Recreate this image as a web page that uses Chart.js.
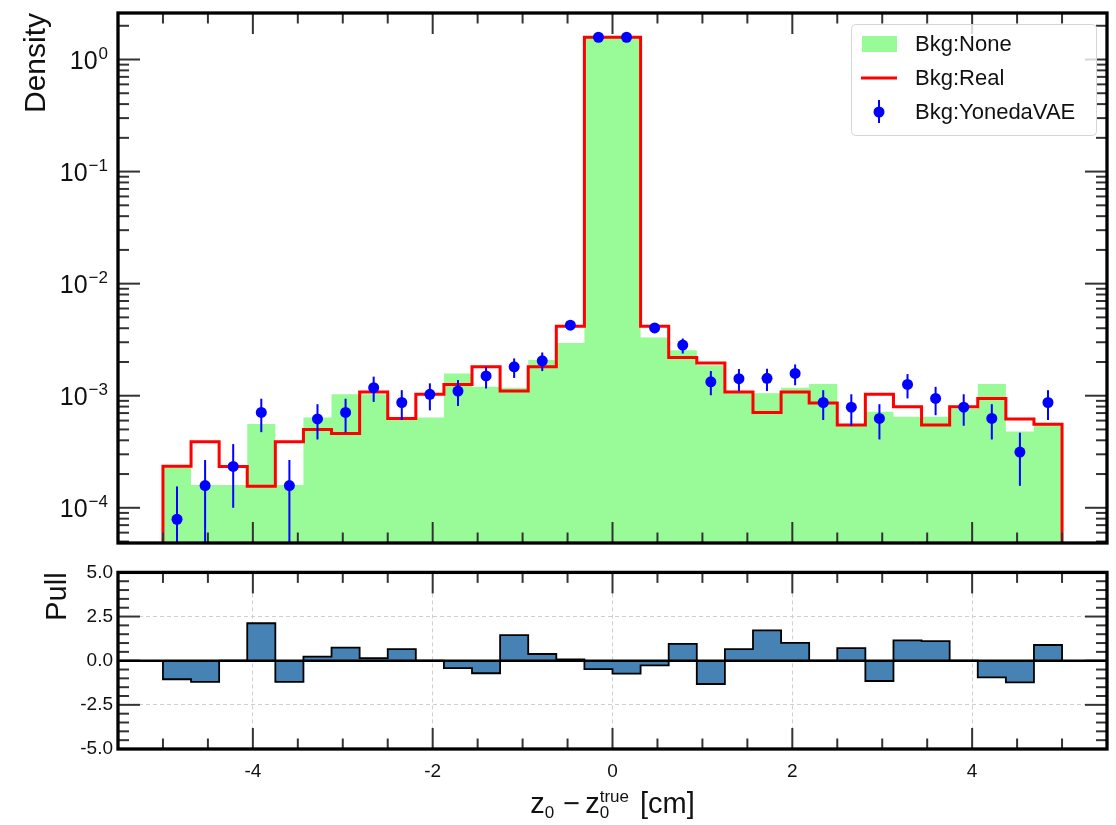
<!DOCTYPE html>
<html>
<head>
<meta charset="utf-8">
<script src="https://cdn.jsdelivr.net/npm/chart.js@4.4.1/dist/chart.umd.min.js"></script>
<style>
  body { margin: 0; background: #fff; }
  #wrap { position: relative; width: 1116px; height: 825px; }
  canvas { position: absolute; left: 0; }
</style>
</head>
<body>
<div id="wrap">
  <canvas id="mainChart" width="1116" height="556" style="top:0"></canvas>
  <canvas id="pullChart" width="1116" height="269" style="top:556px"></canvas>
</div>
<script>
// binning: 32 bins from -5 to 5 cm
const binLo = -5;
const binHi = 5;
const nBins = 32;
const binWidth = (binHi - binLo) / nBins;

// density per bin
const bkgNone = [2.3e-4, 1.6e-4, 1.6e-4, 5.6e-4, 1.6e-4, 6.4e-4, 1.03e-3, 1.03e-3,
  6.2e-4, 6.4e-4, 1.58e-3, 1.2e-3, 1.18e-3, 2.08e-3, 2.96e-3, 1.58,
  1.58, 3.31e-3, 2.55e-3, 1.87e-3, 1.05e-3, 1.05e-3, 1.18e-3, 1.27e-3,
  5.4e-4, 7.2e-4, 6.5e-4, 6.5e-4, 7.7e-4, 1.27e-3, 4.8e-4, 5.5e-4];
const bkgReal = [2.35e-4, 3.89e-4, 2.33e-4, 1.56e-4, 3.89e-4, 5.0e-4, 4.6e-4, 1.08e-3,
  6.27e-4, 1.03e-3, 1.26e-3, 1.81e-3, 1.1e-3, 1.81e-3, 4.17e-3, 1.58,
  1.58, 4.17e-3, 2.19e-3, 1.96e-3, 1.08e-3, 7.1e-4, 1.08e-3, 8.6e-4,
  5.47e-4, 1.03e-3, 7.96e-4, 5.47e-4, 7.96e-4, 9.46e-4, 6.2e-4, 5.55e-4];
const yonedaVals = [7.9e-5, 1.58e-4, 2.34e-4, 7.1e-4, 1.58e-4, 6.2e-4, 7.1e-4, 1.18e-3,
  8.7e-4, 1.03e-3, 1.1e-3, 1.5e-3, 1.81e-3, 2.05e-3, 4.26e-3, 1.58,
  1.58, 4.03e-3, 2.83e-3, 1.33e-3, 1.42e-3, 1.43e-3, 1.58e-3, 8.7e-4,
  7.9e-4, 6.27e-4, 1.26e-3, 9.46e-4, 7.9e-4, 6.27e-4, 3.14e-4, 8.7e-4];
const yonedaLow = [0, 0, 1.0e-4, 4.73e-4, 0, 4.07e-4, 4.7e-4, 8.8e-4,
  6.07e-4, 7.4e-4, 8.1e-4, 1.16e-3, 1.44e-3, 1.66e-3, 3.9e-3, 1.55,
  1.55, 3.7e-3, 2.38e-3, 1.01e-3, 1.1e-3, 1.1e-3, 1.24e-3, 6.07e-4,
  5.4e-4, 4.07e-4, 9.46e-4, 6.7e-4, 5.4e-4, 4.07e-4, 1.57e-4, 6.07e-4];
const yonedaHigh = [1.55e-4, 2.67e-4, 3.7e-4, 9.4e-4, 2.67e-4, 8.4e-4, 9.4e-4, 1.48e-3,
  1.12e-3, 1.29e-3, 1.38e-3, 1.8e-3, 2.15e-3, 2.43e-3, 4.6e-3, 1.61,
  1.61, 4.4e-3, 3.24e-3, 1.66e-3, 1.73e-3, 1.74e-3, 1.9e-3, 1.12e-3,
  1.03e-3, 8.4e-4, 1.56e-3, 1.2e-3, 1.03e-3, 8.4e-4, 4.68e-4, 1.12e-3];

// pull per bin
const pullVals = [-1.05, -1.2, 0, 2.12, -1.2, 0.23, 0.74, 0.15,
  0.65, 0, -0.42, -0.71, 1.45, 0.38, 0.07, -0.48,
  -0.73, -0.27, 0.95, -1.32, 0.65, 1.72, 1.01, 0,
  0.71, -1.15, 1.15, 1.11, 0, -0.94, -1.23, 0.89];

// axes
const xMin = -5.5, xMax = 5.5;
const yMin = 4.85e-5, yMax = 2.6;
const xMajorTicks = [-4, -2, 0, 2, 4];
const densityDecades = [1e-4, 1e-3, 1e-2, 1e-1, 1];
const pullMajorTicks = [-5, -2.5, 0, 2.5, 5];

const xMinorTicks = [];
for (let v = -5; v <= 5.001; v += 0.5) if (!xMajorTicks.includes(v)) xMinorTicks.push(v);
const densityMinor = [];
for (let e = -5; e <= 0; e++) for (let k = 2; k <= 9; k++) {
  const v = k * Math.pow(10, e);
  if (v > yMin && v < yMax) densityMinor.push(v);
}
const pullMinorTicks = [];
for (let v = -4.5; v <= 4.501; v += 0.5) if (!pullMajorTicks.includes(v)) pullMinorTicks.push(v);

const FONT = '"Liberation Sans", Arial, Helvetica, sans-serif';
Chart.defaults.font.family = FONT;

const centers = bkgNone.map((_, i) => binLo + (i + 0.5) * binWidth);

function stepPoints(vals, base) {
  const pts = [{ x: binLo, y: base }];
  vals.forEach((v, i) => pts.push({ x: binLo + i * binWidth, y: v }));
  pts.push({ x: binHi, y: vals[vals.length - 1] });
  pts.push({ x: binHi, y: base });
  return pts;
}

// inward ticks on all four sides + thick frame
const frameTicks = {
  id: 'frameTicks',
  afterDraw(chart, args, opts) {
    const { ctx, chartArea: a } = chart;
    const xs = chart.scales.x, ys = chart.scales.y;
    ctx.save();
    ctx.strokeStyle = '#333';
    ctx.lineWidth = 2;
    const seg = (x1, y1, x2, y2) => { ctx.beginPath(); ctx.moveTo(x1, y1); ctx.lineTo(x2, y2); ctx.stroke(); };
    const xTick = (v, len) => { const p = xs.getPixelForValue(v); seg(p, a.top, p, a.top + len); seg(p, a.bottom, p, a.bottom - len); };
    const yTick = (v, len) => { const p = ys.getPixelForValue(v); seg(a.left, p, a.left + len, p); seg(a.right, p, a.right - len, p); };
    opts.xMajor.forEach(v => xTick(v, 21));
    opts.xMinor.forEach(v => xTick(v, 10.5));
    opts.yMajor.forEach(v => yTick(v, 22));
    opts.yMinor.forEach(v => yTick(v, 11));
    if (opts.zeroLine) {
      ctx.strokeStyle = '#000';
      ctx.lineWidth = 2.5;
      const p = ys.getPixelForValue(0);
      seg(a.left, p, a.right, p);
    }
    ctx.strokeStyle = '#000';
    ctx.lineWidth = 3.3;
    ctx.strokeRect(a.left, a.top, a.right - a.left, a.bottom - a.top);
    ctx.restore();
  }
};

const errorBars = {
  id: 'errorBars',
  beforeDatasetDraw(chart, args) {
    const ds = chart.data.datasets[args.index];
    if (!ds.errLow) return;
    const { ctx, chartArea: a } = chart;
    const xs = chart.scales.x, ys = chart.scales.y;
    ctx.save();
    ctx.beginPath();
    ctx.rect(a.left, a.top, a.right - a.left, a.bottom - a.top);
    ctx.clip();
    ctx.strokeStyle = ds.pointBackgroundColor;
    ctx.lineWidth = 2;
    ds.data.forEach((pt, i) => {
      const x = xs.getPixelForValue(pt.x);
      const lo = ds.errLow[i] > 0 ? ys.getPixelForValue(ds.errLow[i]) : a.bottom + 5;
      const hi = ys.getPixelForValue(ds.errHigh[i]);
      ctx.beginPath(); ctx.moveTo(x, lo); ctx.lineTo(x, hi); ctx.stroke();
    });
    ctx.restore();
  }
};

const densityLabels = {
  id: 'densityLabels',
  afterDraw(chart) {
    const { ctx, chartArea: a } = chart;
    const ys = chart.scales.y;
    ctx.save();
    ctx.fillStyle = '#111';
    ctx.textBaseline = 'alphabetic';
    densityDecades.forEach(v => {
      const p = ys.getPixelForValue(v);
      const e = Math.round(Math.log10(v));
      const expTxt = e < 0 ? '\u2212' + Math.abs(e) : String(e);
      ctx.font = '17px ' + FONT;
      ctx.textAlign = 'right';
      ctx.fillText(expTxt, 108, p - 1);
      const w = ctx.measureText(expTxt).width;
      ctx.font = '25px ' + FONT;
      ctx.fillText('10', 108 - w - 1, p + 9);
    });
    // y label
    ctx.translate(45, a.top);
    ctx.rotate(-Math.PI / 2);
    ctx.font = '30px ' + FONT;
    ctx.textAlign = 'right';
    ctx.fillText('Density', 0, 0);
    ctx.restore();
  }
};

const legendBox = {
  id: 'legendBox',
  afterDraw(chart) {
    const { ctx } = chart;
    const sets = chart.data.datasets;
    const none = sets.find(d => d.label === 'Bkg:None');
    const real = sets.find(d => d.label === 'Bkg:Real');
    const vae = sets.find(d => d.label === 'Bkg:YonedaVAE');
    ctx.save();
    ctx.beginPath();
    ctx.roundRect(851.5, 24.5, 245, 111, 4);
    ctx.fillStyle = 'rgba(255,255,255,0.8)';
    ctx.fill();
    ctx.strokeStyle = '#d6d6d6';
    ctx.lineWidth = 1;
    ctx.stroke();

    ctx.fillStyle = none.backgroundColor;
    ctx.fillRect(862, 36, 35, 16);

    ctx.strokeStyle = real.borderColor;
    ctx.lineWidth = 3;
    ctx.beginPath(); ctx.moveTo(861, 78); ctx.lineTo(897, 78); ctx.stroke();

    ctx.strokeStyle = vae.pointBackgroundColor;
    ctx.lineWidth = 2;
    ctx.beginPath(); ctx.moveTo(879, 100); ctx.lineTo(879, 123); ctx.stroke();
    ctx.fillStyle = vae.pointBackgroundColor;
    ctx.beginPath(); ctx.arc(879, 112, 5.5, 0, Math.PI * 2); ctx.fill();

    ctx.fillStyle = '#111';
    ctx.font = '22px ' + FONT;
    ctx.textAlign = 'left';
    ctx.textBaseline = 'middle';
    [none, real, vae].forEach((d, i) => ctx.fillText(d.label, 915, 45 + i * 34));
    ctx.restore();
  }
};

const pullTitles = {
  id: 'pullTitles',
  afterDraw(chart) {
    const { ctx, chartArea: a } = chart;
    ctx.save();
    ctx.fillStyle = '#111';
    ctx.textBaseline = 'alphabetic';
    // y label
    ctx.save();
    ctx.translate(66, a.top);
    ctx.rotate(-Math.PI / 2);
    ctx.font = '29px ' + FONT;
    ctx.textAlign = 'right';
    ctx.fillText('Pull', 0, 0);
    ctx.restore();
    // x label: z_0 - z_0^true [cm]
    const big = '29px ' + FONT, small = '17px ' + FONT;
    const base = 257;
    const parts = [
      { t: 'z', f: big, dy: 0 },
      { t: '0', f: small, dy: 5 },
      { gap: 9 },
      { t: '\u2212', f: big, dy: 0 },
      { gap: 5 },
      { t: 'z', f: big, dy: 0 },
      { t: '0', f: small, dy: 5, stackWith: 'true' },
      { gap: 11 },
      { t: '[cm]', f: big, dy: 0 }
    ];
    let total = 0;
    parts.forEach(p => {
      if (p.gap) { p.w = p.gap; }
      else {
        ctx.font = p.f;
        p.w = ctx.measureText(p.t).width;
        if (p.stackWith) p.w = Math.max(p.w, ctx.measureText(p.stackWith).width);
      }
      total += p.w;
    });
    let x = (a.left + a.right) / 2 - total / 2;
    ctx.textAlign = 'left';
    parts.forEach(p => {
      if (!p.gap) {
        ctx.font = p.f;
        ctx.fillText(p.t, x, base + p.dy);
        if (p.stackWith) ctx.fillText(p.stackWith, x, base - 11);
      }
      x += p.w;
    });
    ctx.restore();
  }
};

new Chart(document.getElementById('mainChart'), {
  type: 'line',
  data: {
    datasets: [
      {
        type: 'scatter',
        label: 'Bkg:YonedaVAE',
        data: centers.map((c, i) => ({ x: c, y: yonedaVals[i] })),
        errLow: yonedaLow,
        errHigh: yonedaHigh,
        pointRadius: 5.5,
        pointBackgroundColor: 'blue',
        pointBorderWidth: 0,
        order: 0
      },
      {
        label: 'Bkg:Real',
        data: stepPoints(bkgReal, yMin),
        stepped: true,
        borderColor: 'red',
        borderWidth: 3,
        borderJoinStyle: 'miter',
        pointRadius: 0,
        fill: false,
        order: 1
      },
      {
        label: 'Bkg:None',
        data: stepPoints(bkgNone, yMin),
        stepped: true,
        borderColor: 'transparent',
        borderWidth: 0,
        backgroundColor: '#98fb98',
        pointRadius: 0,
        fill: 'start',
        order: 2
      }
    ]
  },
  options: {
    responsive: false,
    animation: false,
    events: [],
    layout: { padding: { left: 118, right: 9, top: 13, bottom: 13 } },
    plugins: {
      legend: { display: false },
      tooltip: { enabled: false },
      frameTicks: { xMajor: xMajorTicks, xMinor: xMinorTicks, yMajor: densityDecades, yMinor: densityMinor }
    },
    scales: {
      x: { type: 'linear', min: xMin, max: xMax, display: false },
      y: { type: 'logarithmic', min: yMin, max: yMax, display: false }
    }
  },
  plugins: [errorBars, frameTicks, densityLabels, legendBox]
});

new Chart(document.getElementById('pullChart'), {
  type: 'line',
  data: {
    datasets: [{
      label: 'Pull',
      data: stepPoints(pullVals, 0),
      stepped: true,
      borderColor: '#000',
      borderWidth: 1.8,
      borderJoinStyle: 'miter',
      backgroundColor: '#4682b4',
      pointRadius: 0,
      fill: 'origin'
    }]
  },
  options: {
    responsive: false,
    animation: false,
    events: [],
    layout: { padding: { left: 0, right: 9, top: 15, bottom: 0 } },
    plugins: {
      legend: { display: false },
      tooltip: { enabled: false },
      frameTicks: { xMajor: xMajorTicks, xMinor: xMinorTicks, yMajor: pullMajorTicks, yMinor: pullMinorTicks, zeroLine: true }
    },
    scales: {
      x: {
        type: 'linear', min: xMin, max: xMax,
        afterBuildTicks: s => { s.ticks = xMajorTicks.map(v => ({ value: v })); },
        afterFit: s => { s.height = 76; },
        grid: { color: '#cfcfcf', lineWidth: 1, drawTicks: false },
        border: { display: false, dash: [4, 3] },
        ticks: { padding: 11, color: '#111', font: { size: 19 }, maxRotation: 0, callback: v => String(v) }
      },
      y: {
        type: 'linear', min: -5, max: 5,
        afterBuildTicks: s => { s.ticks = pullMajorTicks.map(v => ({ value: v })); },
        afterFit: s => { s.width = 118; },
        grid: { color: c => (Math.abs(c.tick.value) === 2.5 ? '#cfcfcf' : 'transparent'), lineWidth: 1, drawTicks: false },
        border: { display: false, dash: [4, 3] },
        ticks: { padding: 5, color: '#111', font: { size: 19 }, callback: v => v.toFixed(1) }
      }
    }
  },
  plugins: [frameTicks, pullTitles]
});
</script>
</body>
</html>
